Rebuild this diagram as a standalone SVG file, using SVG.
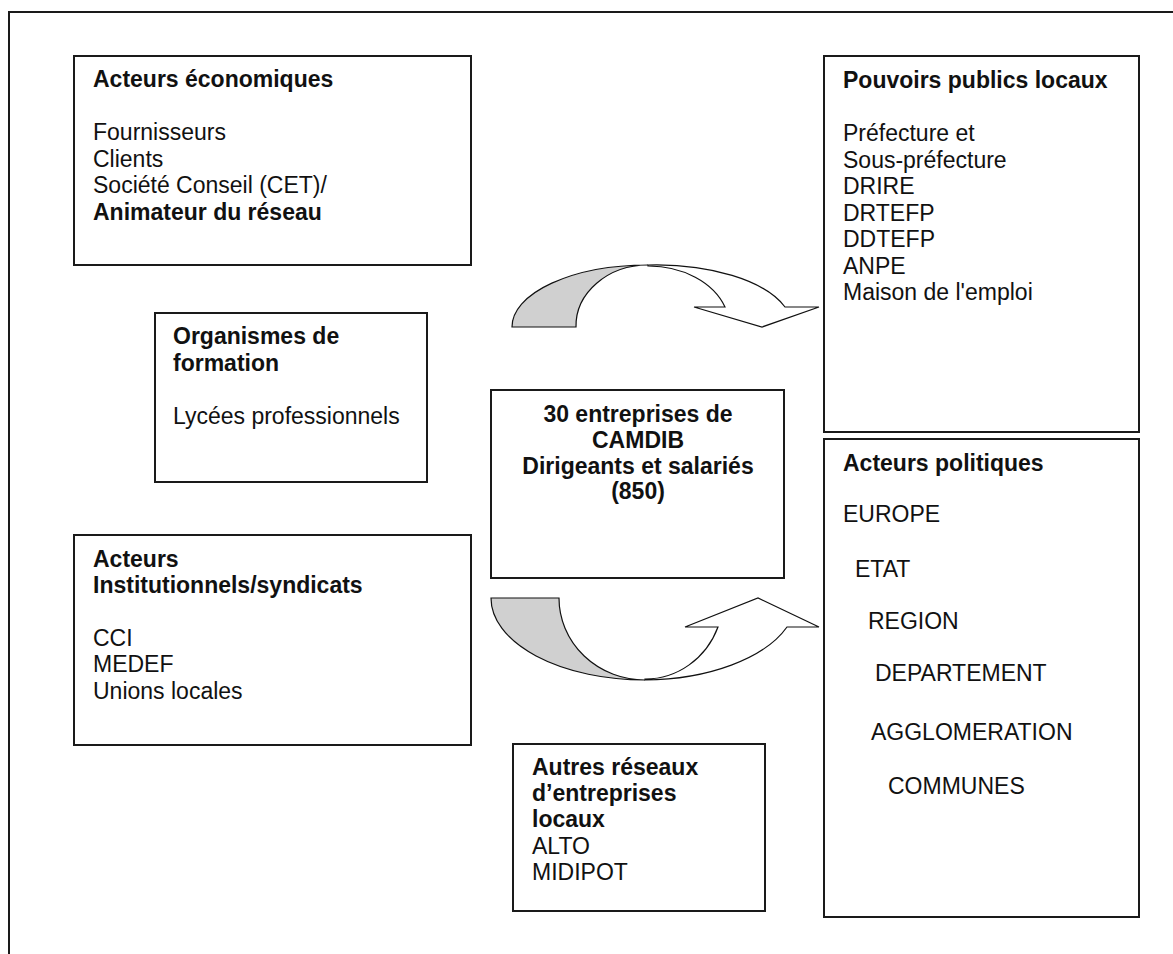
<svg xmlns="http://www.w3.org/2000/svg" width="1173" height="954" viewBox="0 0 1173 954">
<style>
.box{fill:#fff;stroke:#1a1a1a;stroke-width:2}
.t{font-family:"Liberation Sans",Arial,sans-serif;font-size:23px;fill:#111}
.b{font-weight:bold}
.gray{fill:#d0d0d0;stroke:#111;stroke-width:1.2}
.white{fill:#fff;stroke:#111;stroke-width:1.2}
</style>
<rect width="1173" height="954" fill="#fff"/>
<path d="M9,954 V12 H1173" fill="none" stroke="#1a1a1a" stroke-width="2"/>
<g id="connectors">
<g id="arrow-top">
<path class="white" d="M648,265 A136,62 0 0 1 785,307 L819,307 L762,327 L694,307 L725,307 A81,61 0 0 0 648,266 Z"/>
<path class="gray" d="M512,327 A136,62 0 0 1 648,265 A72,61 0 0 0 576,327 Z"/>
</g>
<g id="arrow-bottom">
<path class="white" d="M645,680 A154,82 0 0 0 787,627 L819,627 L758,598 L685,627 L718,627 A78,82 0 0 1 645,679 Z"/>
<path class="gray" d="M491,598 A154,82 0 0 0 645,680 A86,82 0 0 1 559,598 Z"/>
</g>
</g>
<g id="acteurs-economiques">
<rect class="box" x="74" y="56" width="397" height="209"/>
<text class="t"><tspan class="b" x="93" y="87">Acteurs économiques</tspan><tspan x="93" y="140">Fournisseurs</tspan><tspan x="93" y="166.5">Clients</tspan><tspan x="93" y="193">Société Conseil (CET)/</tspan><tspan class="b" x="93" y="219.5">Animateur du réseau</tspan></text>
</g>
<g id="pouvoirs-publics">
<rect class="box" x="824" y="56" width="315" height="376"/>
<text class="t"><tspan class="b" x="843" y="88">Pouvoirs publics locaux</tspan><tspan x="843" y="141">Préfecture et</tspan><tspan x="843" y="167.5">Sous-préfecture</tspan><tspan x="843" y="194">DRIRE</tspan><tspan x="843" y="220.5">DRTEFP</tspan><tspan x="843" y="247">DDTEFP</tspan><tspan x="843" y="273.5">ANPE</tspan><tspan x="843" y="300">Maison de l'emploi</tspan></text>
</g>
<g id="acteurs-politiques">
<rect class="box" x="824" y="439" width="315" height="478"/>
<text class="t"><tspan class="b" x="843" y="471">Acteurs politiques</tspan><tspan x="843" y="522">EUROPE</tspan><tspan x="855" y="577">ETAT</tspan><tspan x="868" y="629">REGION</tspan><tspan x="875" y="681">DEPARTEMENT</tspan><tspan x="871" y="740">AGGLOMERATION</tspan><tspan x="888" y="794">COMMUNES</tspan></text>
</g>
<g id="organismes-formation">
<rect class="box" x="155" y="313" width="272" height="169"/>
<text class="t"><tspan class="b" x="173" y="344">Organismes de</tspan><tspan class="b" x="173" y="370.5">formation</tspan><tspan x="173" y="423.5">Lycées professionnels</tspan></text>
</g>
<g id="camdib">
<rect class="box" x="491" y="390" width="293" height="188"/>
<text class="t b" text-anchor="middle"><tspan x="638" y="422">30 entreprises de</tspan><tspan x="638" y="448">CAMDIB</tspan><tspan x="638" y="474">Dirigeants et salariés</tspan><tspan x="638" y="499">(850)</tspan></text>
</g>
<g id="acteurs-institutionnels">
<rect class="box" x="74" y="535" width="397" height="210"/>
<text class="t"><tspan class="b" x="93" y="567">Acteurs</tspan><tspan class="b" x="93" y="593">Institutionnels/syndicats</tspan><tspan x="93" y="646">CCI</tspan><tspan x="93" y="672">MEDEF</tspan><tspan x="93" y="699">Unions locales</tspan></text>
</g>
<g id="autres-reseaux">
<rect class="box" x="513" y="744" width="252" height="167"/>
<text class="t"><tspan class="b" x="532" y="775">Autres réseaux</tspan><tspan class="b" x="532" y="801">d’entreprises</tspan><tspan class="b" x="532" y="827">locaux</tspan><tspan x="532" y="854">ALTO</tspan><tspan x="532" y="880">MIDIPOT</tspan></text>
</g>
</svg>
